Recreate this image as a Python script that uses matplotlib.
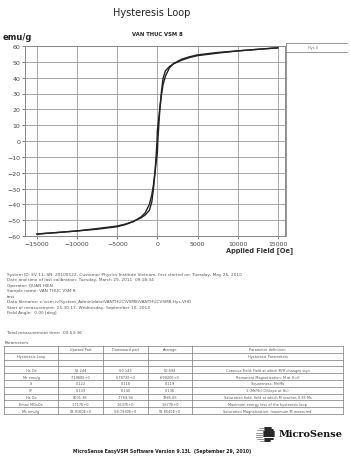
import numpy as np
import matplotlib.pyplot as plt

# hysteresis loop, upward branch (field in Oe, moment in emu/g)
fieldUp = [-15000, -12500, -10000, -7500, -5000, -4000, -3000, -2000, -1500, -1000,
           -700, -500, -300, -150, 0, 51, 150, 300, 500, 700,
           1000, 1500, 2000, 3000, 4000, 5000, 7500, 10000, 12500, 15000]
momentUp = [-58.8, -57.8, -56.8, -55.3, -53.7, -52.5, -50.8, -48.4, -46.6, -43.8,
            -38.5, -30.5, -20.0, -13.0, -7.2, 0.0, 8.0, 20.0, 29.0, 35.5,
            41.0, 46.2, 48.9, 51.6, 53.2, 54.4, 55.9, 56.9, 57.9, 58.9]

# downward branch
fieldDown = [15000, 12500, 10000, 7500, 5000, 4000, 3000, 2000, 1500, 1000,
             700, 500, 300, 150, 0, -50, -150, -300, -500, -700,
             -1000, -1500, -2000, -3000, -4000, -5000, -7500, -10000, -12500, -15000]
momentDown = [58.8, 57.9, 56.9, 55.5, 53.9, 52.7, 51.0, 48.7, 47.0, 44.4,
              39.5, 31.0, 20.5, 13.5, 6.8, 0.0, -8.5, -19.5, -28.0, -34.0,
              -40.0, -45.2, -47.8, -50.9, -52.8, -54.1, -55.7, -56.8, -57.8, -58.7]

xTicks = [-15000, -10000, -5000, 0, 5000, 10000, 15000]
yTicks = list(range(-60, 61, 10))

infoLines = [
    "System ID: EV 11, SN: 20100522, Customer Physics Institute Vietnam, first started on: Tuesday, May 25, 2010",
    "Date and time of last calibration: Tuesday, March 29, 2011  09:18:34",
    "Operator: QUAN HIEN",
    "Sample name: VAN THUC VSM 8",
    "test",
    "Data filename: c:\\vsm-iv\\System_Admin\\data\\VANTHUC\\VSM8\\VANTHUCVSM8-Hys.VHD",
    "Start of measurement: 15:30:17, Wednesday, September 10, 2014",
    "Field Angle:  0.00 [deg]",
]

tableHeader = ["", "Upward Part", "Downward part", "Average", "Parameter definition"]
tableRows = [
    ["Hysteresis Loop", "", "", "", "Hysteresis Parameters"],
    ["", "", "", "", ""],
    ["Hc Oe", "51.244", "-50.143", "50.694", "Coercive Field: Field at which M/H changes sign"],
    ["Mr emu/g", "7.1968E+0", "6.7872E+0", "6.9920E+0", "Remanent Magnetization: M at H=0"],
    ["S", "0.122", "0.116", "0.119", "Squareness: Mr/Ms"],
    ["S*", "0.133", "0.140", "0.136", "1-(Mr/Hc)(1/slope at Hc)"],
    ["Hs Oe", "8001.36", "-7769.94", "7885.65", "Saturation field, field at which M reaches 0.95 Ms"],
    ["Emax MGsOe", "1.717E+0", "1.637E+0", "1.677E+0", "Maximum energy loss of the hysteresis loop"],
    ["Ms emu/g", "58.9160E+0", "-58.7930E+0", "58.8545E+0", "Saturation Magnetization: maximum M measured"],
]
colEdges = [4, 58, 103, 148, 192, 343]

fig = plt.figure(figsize=(3.5, 4.6), dpi=100)

# page overlay in pixel units for the report text
pg = fig.add_axes([0, 0, 1, 1])
pg.set_xlim(0, 350)
pg.set_ylim(460, 0)
pg.axis('off')

# main loop plot
ax = fig.add_axes([25 / 350, 1 - 237 / 460, 260 / 350, 190 / 460])
ax.plot(fieldUp, momentUp, color='#222222', lw=1.0)
ax.plot(fieldDown, momentDown, color='#222222', lw=1.0)
ax.set_xlim(-16500, 15900)
ax.set_ylim(-60, 60)
ax.set_xticks(xTicks)
ax.set_yticks(yTicks)
ax.tick_params(labelsize=4.5, length=2, width=0.5, pad=1.5, colors='#444444')
ax.grid(True, color='#9a9a9a', lw=0.6)
for sp in ax.spines.values():
    sp.set_color('#888888')
    sp.set_linewidth(0.7)

pg.text(152, 13, "Hysteresis Loop", fontsize=7, ha='center', va='center', color='#222222')
pg.text(3, 37, "emu/g", fontsize=6, fontweight='bold', ha='left', va='center', color='#222222')
pg.text(157, 34, "VAN THUC VSM 8", fontsize=3.8, fontweight='bold', ha='center', va='center', color='#222222')
pg.text(293, 251, "Applied Field [Oe]", fontsize=4.8, fontweight='bold', ha='right', va='center', color='#333333')

# legend strip right of the plot
pg.plot([286, 347], [44, 44], color='#888888', lw=0.6)
pg.plot([286, 347], [52.5, 52.5], color='#888888', lw=0.6)
pg.plot([286, 286], [44, 237], color='#888888', lw=0.6)
pg.text(308, 48.5, "Hys II", fontsize=2.5, ha='left', va='center', color='#666666')

# measurement info
lineY = [275, 280.5, 286, 291.5, 297, 302.5, 308, 313.5]
for y, s in zip(lineY, infoLines):
    pg.text(7, y, s, fontsize=3.1, ha='left', va='center', color='#555555')
pg.text(7, 333, "Total measurement time:  00:53:36", fontsize=3.1, ha='left', va='center', color='#555555')
pg.text(5, 343, "Parameters", fontsize=3.1, ha='left', va='center', color='#555555')

# parameter table
top, bottom = 347, 415
nRows = len(tableRows) + 1
rowH = (bottom - top) / nRows
for i in range(nRows + 1):
    pg.plot([colEdges[0], colEdges[-1]], [top + i * rowH] * 2, color='#777777', lw=0.5)
for x in colEdges:
    pg.plot([x, x], [top, bottom], color='#777777', lw=0.5)
for r, row in enumerate([tableHeader] + tableRows):
    yc = top + (r + 0.5) * rowH
    for c, cell in enumerate(row):
        xc = (colEdges[c] + colEdges[c + 1]) / 2
        pg.text(xc, yc, cell, fontsize=2.5, ha='center', va='center', color='#555555')

# MicroSense logo: striped ball, short stripes on the left, heavy on the right
cx, cy, rad = 266, 435, 8
for dy in np.arange(-6.5, 7, 2.2):
    half = np.sqrt(rad ** 2 - dy ** 2)
    pg.plot([cx - 0.2 * half, cx + half], [cy + dy, cy + dy], color='#111111', lw=1.3,
            solid_capstyle='round')
    pg.plot([cx - half - 2, cx - 0.5 * half], [cy + dy + 0.6, cy + dy + 0.6], color='#666666', lw=0.5)
pg.text(343, 435, "MicroSense", fontsize=7, fontweight='bold', family='DejaVu Serif',
        ha='right', va='center', color='#111111')

pg.text(162, 452, "MicroSense EasyVSM Software Version 9.13L  (September 29, 2010)",
        fontsize=3.3, fontweight='bold', ha='center', va='center', color='#222222')

plt.savefig("out.png", dpi=100)
